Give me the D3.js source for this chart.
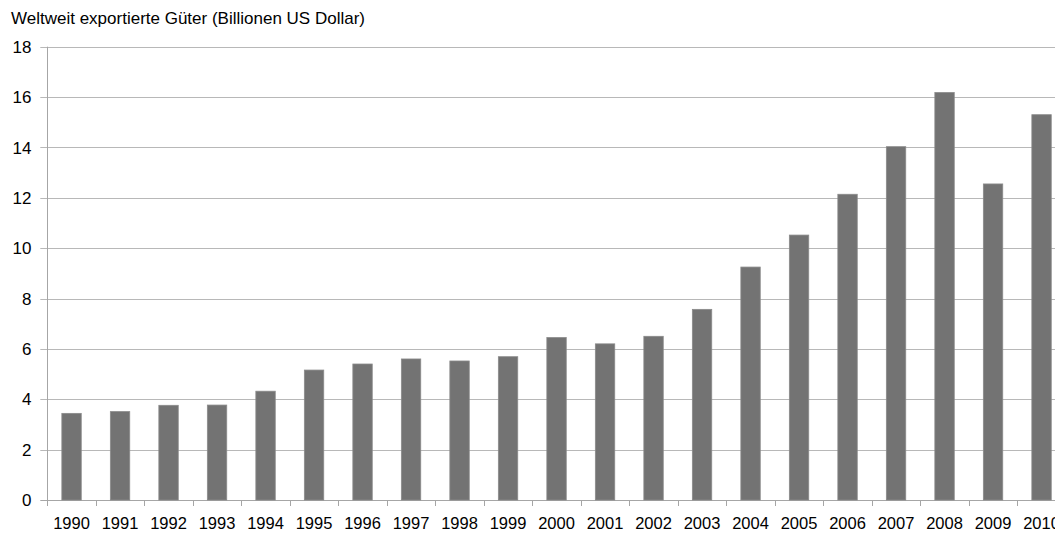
<!DOCTYPE html>
<html>
<head>
<meta charset="utf-8">
<script src="https://cdn.jsdelivr.net/npm/d3@7"></script>
<style>
  html, body { margin: 0; padding: 0; background: #fff; overflow: hidden; }
  svg { display: block; font-family: "Liberation Sans", Arial, sans-serif; }
</style>
</head>
<body>
<svg id="chart" width="1055" height="534"></svg>
<script>
// World merchandise exports, trillions of US dollars
const years = ["1990","1991","1992","1993","1994","1995","1996","1997","1998","1999","2000",
               "2001","2002","2003","2004","2005","2006","2007","2008","2009","2010"];
const exportsValue = [3.44, 3.51, 3.76, 3.77, 4.32, 5.16, 5.40, 5.60, 5.52, 5.69, 6.45,
                      6.20, 6.50, 7.57, 9.25, 10.52, 12.14, 14.03, 16.18, 12.55, 15.30];
const yTicks = [0, 2, 4, 6, 8, 10, 12, 14, 16, 18];
const titleText = "Weltweit exportierte Güter (Billionen US Dollar)";

const svg = d3.select("#chart");
const margin = { left: 47.3, top: 46.7, bottom: 500 };
const plotRight = 47.3 + 21 * 48.5;

const x = d3.scaleBand().domain(years).range([margin.left, plotRight]).paddingInner(0.6).paddingOuter(0.3);
const xBand = d3.scaleBand().domain(years).range([margin.left, plotRight]);
const y = d3.scaleLinear().domain([0, 18]).range([margin.bottom, margin.top]);

// horizontal gridlines with short outer ticks
svg.append("g")
  .selectAll("line")
  .data(yTicks)
  .join("line")
  .attr("x1", margin.left - 7)
  .attr("x2", plotRight)
  .attr("y1", d => Math.round(y(d)) + 0.5)
  .attr("y2", d => Math.round(y(d)) + 0.5)
  .attr("stroke", d => d === 0 ? "#a6a6a6" : "#b8b8b8")
  .attr("stroke-width", 1);

// y tick labels
svg.append("g")
  .selectAll("text")
  .data(yTicks)
  .join("text")
  .attr("x", 31.5)
  .attr("y", d => y(d))
  .attr("dy", "0.36em")
  .attr("text-anchor", "end")
  .attr("font-size", 17)
  .attr("fill", "#000")
  .text(d => d);

// vertical axis line
svg.append("line")
  .attr("x1", Math.round(margin.left) + 0.5).attr("x2", Math.round(margin.left) + 0.5)
  .attr("y1", margin.top).attr("y2", margin.bottom + 1)
  .attr("stroke", "#a6a6a6");

// category boundary ticks below the x axis
svg.append("g")
  .selectAll("line")
  .data(years.map(d => xBand(d)).concat([plotRight]))
  .join("line")
  .attr("x1", d => Math.round(d) + 0.5)
  .attr("x2", d => Math.round(d) + 0.5)
  .attr("y1", margin.bottom)
  .attr("y2", margin.bottom + 6)
  .attr("stroke", "#a6a6a6");

// bars
svg.append("g")
  .selectAll("rect")
  .data(years.map((d, i) => ({ year: d, value: exportsValue[i] })))
  .join("rect")
  .attr("x", d => x(d.year))
  .attr("width", x.bandwidth())
  .attr("y", d => y(d.value))
  .attr("height", d => y(0) - y(d.value))
  .attr("fill", "#737373")
  .attr("stroke", "#8a8a8a")
  .attr("stroke-width", 0.8);

// x tick labels
svg.append("g")
  .selectAll("text")
  .data(years)
  .join("text")
  .attr("x", d => xBand(d) + xBand.bandwidth() / 2)
  .attr("y", 529)
  .attr("text-anchor", "middle")
  .attr("font-size", 16.5)
  .attr("fill", "#000")
  .text(d => d);

// title
svg.append("text")
  .attr("x", 11)
  .attr("y", 24.3)
  .attr("font-size", 17)
  .attr("fill", "#000")
  .text(titleText);
</script>
</body>
</html>
